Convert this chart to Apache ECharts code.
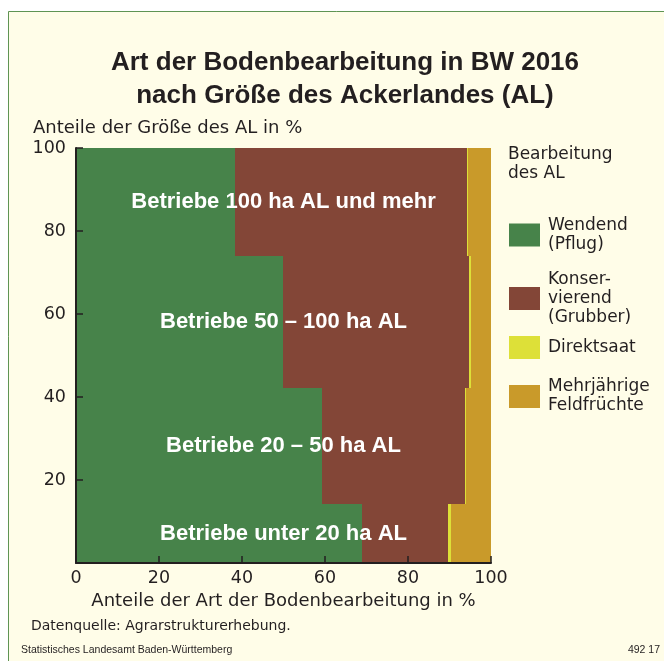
<!DOCTYPE html>
<html><head><meta charset="utf-8">
<script src="https://cdn.jsdelivr.net/npm/echarts@6/dist/echarts.min.js"></script>
<style>html,body{margin:0;padding:0;background:#fff}#c{width:664px;height:661px}</style>
</head><body><div id="c"></div>
<script>
// ---- data ----
const sizeClasses = ['Betriebe unter 20 ha AL', 'Betriebe 20 – 50 ha AL', 'Betriebe 50 – 100 ha AL', 'Betriebe 100 ha AL und mehr'];
const classShare = [14.2, 28.0, 31.8, 26.0]; // Anteile der Größe des AL in % (band heights)
const tillageTypes = ['Wendend (Pflug)', 'Konservierend (Grubber)', 'Direktsaat', 'Mehrjährige Feldfrüchte'];
const wendend = [68.8, 59.3, 49.8, 38.3];
const konservierend = [20.8, 34.4, 44.8, 55.9];
const direktsaat = [0.7, 0.3, 0.5, 0.3];
const mehrjaehrig = [9.7, 6.0, 4.9, 5.5];
const xTickLabels = [0, 20, 40, 60, 80, 100];
const yTickLabels = [20, 40, 60, 80, 100];

// ---- build ----
const FONT = '"Liberation Sans", Arial, sans-serif';
const BODY = '"DejaVu Sans", "Liberation Sans", sans-serif';
const TXT = '#231f20';
const colors = ['#47834a', '#834637', '#dde038', '#c99a2a'];
const legendText = ['Wendend\n(Pflug)', 'Konser-\nvierend\n(Grubber)', 'Direktsaat', 'Mehrjährige\nFeldfrüchte'];
const values = [wendend, konservierend, direktsaat, mehrjaehrig];

const yLow = [], yHigh = [];
let acc = 0;
classShare.forEach(s => { yLow.push(acc); acc += s; yHigh.push(acc); });

const seriesData = tillageTypes.map(() => []);
sizeClasses.forEach((c, i) => {
  let x = 0;
  values.forEach((arr, t) => {
    seriesData[t].push([x, x + arr[i], yLow[i], yHigh[i]]);
    x += arr[i];
  });
});

function renderRect(params, api) {
  const p0 = api.coord([api.value(0), api.value(3)]);
  const p1 = api.coord([api.value(1), api.value(2)]);
  const x0 = Math.round(p0[0]), y0 = Math.round(p0[1]);
  const x1 = Math.round(p1[0]), y1 = Math.round(p1[1]);
  return {
    type: 'rect',
    shape: { x: x0, y: y0, width: Math.max(1, x1 - x0), height: y1 - y0 },
    style: { fill: api.visual('color') }
  };
}

const series = tillageTypes.map((name, t) => ({
  type: 'custom', name: name, renderItem: renderRect,
  itemStyle: { color: colors[t] },
  encode: { x: [0, 1], y: [2, 3] },
  data: seriesData[t], z: 2
}));

series.push({
  type: 'custom', name: 'labels', z: 5, silent: true,
  renderItem: function (params, api) {
    const p = api.coord([api.value(0), api.value(1)]);
    return {
      type: 'text', x: p[0], y: p[1],
      style: { text: sizeClasses[params.dataIndex], fill: '#ffffff', fontSize: 22, fontWeight: 'bold', fontFamily: FONT, align: 'center', verticalAlign: 'middle' }
    };
  },
  encode: { x: 0, y: 1 },
  data: sizeClasses.map((c, i) => [50, (yLow[i] + yHigh[i]) / 2])
});

const legendTops = [216, 269, 336, 377];
const legendPad = [0, 2, 4, 1];
const legends = tillageTypes.map((name, t) => ({
  data: [name], left: 509, top: legendTops[t], padding: 0,
  itemWidth: 31, itemHeight: 23, icon: 'rect', selectedMode: false,
  formatter: () => legendText[t],
  textStyle: { fontSize: 17, fontFamily: BODY, color: TXT, lineHeight: 19, padding: [legendPad[t], 0, 0, 3] }
}));

const option = {
  animation: false,
  backgroundColor: '#ffffff',
  graphic: [{
    type: 'rect', z: -10, silent: true,
    shape: { x: 8.5, y: 11.5, width: 700, height: 700 },
    style: { fill: '#fffde8', stroke: '#5f9453', lineWidth: 1 }
  }],
  title: [
    { text: 'Art der Bodenbearbeitung in BW 2016\nnach Größe des Ackerlandes (AL)', left: 340, top: 41, textAlign: 'center',
      textStyle: { fontSize: 26, fontWeight: 'bold', fontFamily: FONT, color: TXT, lineHeight: 33 } },
    { text: 'Anteile der Größe des AL in %', left: 33, top: 119, padding: 0,
      textStyle: { fontSize: 18, fontWeight: 'normal', fontFamily: BODY, color: TXT } },
    { text: 'Bearbeitung\ndes AL', left: 508, top: 145, padding: 0,
      textStyle: { fontSize: 17, fontWeight: 'normal', fontFamily: BODY, color: TXT, lineHeight: 19 } },
    { text: 'Datenquelle: Agrarstrukturerhebung.', left: 31, top: 619, padding: 0,
      textStyle: { fontSize: 14, fontWeight: 'normal', fontFamily: BODY, color: TXT } },
    { text: 'Statistisches Landesamt Baden-Württemberg', left: 21, top: 645, padding: 0,
      textStyle: { fontSize: 10.5, fontWeight: 'normal', fontFamily: FONT, color: TXT } },
    { text: '492 17', right: 4, top: 645, padding: 0,
      textStyle: { fontSize: 10.5, fontWeight: 'normal', fontFamily: FONT, color: TXT } }
  ],
  legend: legends,
  grid: { left: 76, right: 173, top: 148, bottom: 98, containLabel: false },
  xAxis: {
    type: 'value', min: 0, max: 100, interval: 20, z: 10,
    name: 'Anteile der Art der Bodenbearbeitung in %', nameLocation: 'middle', nameGap: 25,
    nameTextStyle: { fontSize: 18, fontFamily: BODY, color: TXT },
    axisLine: { show: true, lineStyle: { color: TXT, width: 2 } },
    axisTick: { show: true, inside: true, length: 7, lineStyle: { color: TXT, width: 1.5 } },
    axisLabel: { fontSize: 17.5, fontFamily: BODY, color: TXT, margin: 6,
      formatter: v => xTickLabels.includes(v) ? String(v) : '' },
    splitLine: { show: false }
  },
  yAxis: {
    type: 'value', min: 0, max: 100, interval: 20, z: 10,
    axisLine: { show: true, lineStyle: { color: TXT, width: 2 } },
    axisTick: { show: true, inside: true, length: 7, lineStyle: { color: TXT, width: 1.5 } },
    axisLabel: { fontSize: 17.5, fontFamily: BODY, color: TXT, margin: 10,
      formatter: v => yTickLabels.includes(v) ? String(v) : '' },
    splitLine: { show: false }
  },
  series: series
};

const chart = echarts.init(document.getElementById('c'), null, { renderer: 'canvas' });
chart.setOption(option);
</script>
</body></html>
